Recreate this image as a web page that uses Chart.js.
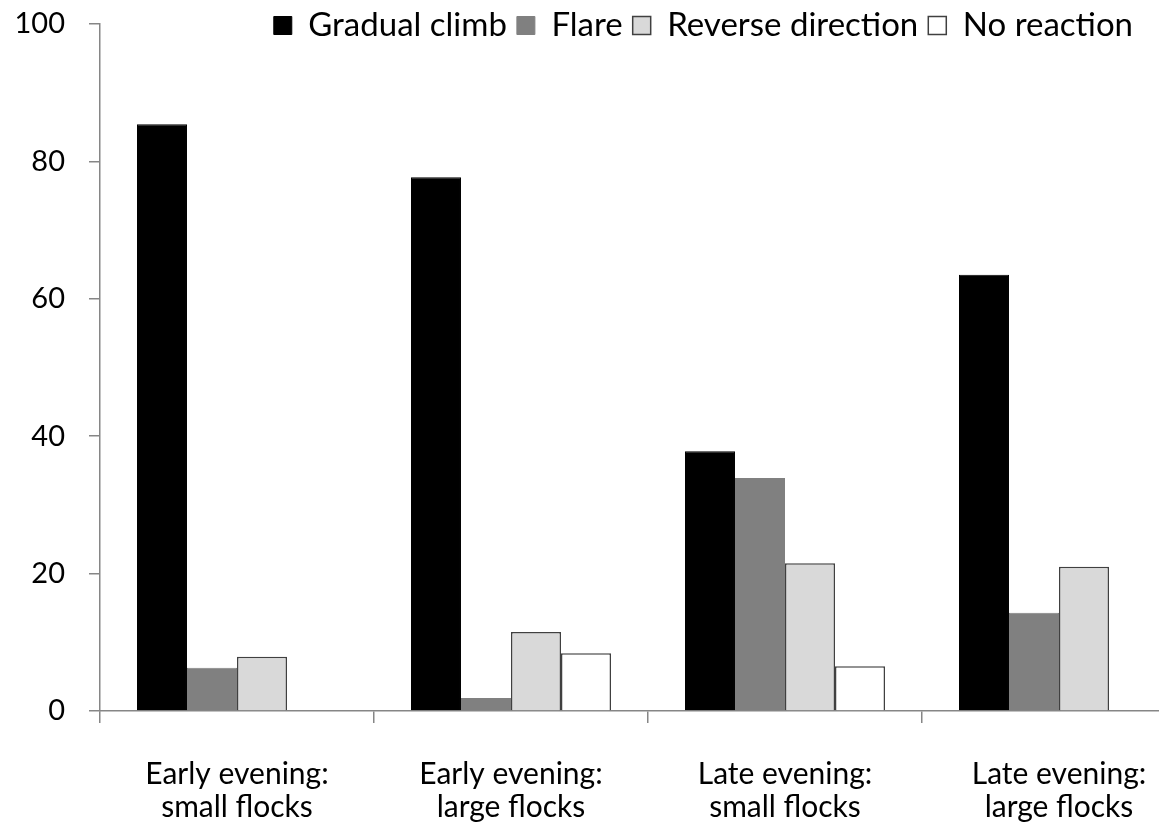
<!DOCTYPE html>
<html>
<head>
<meta charset="utf-8">
<script src="https://cdn.jsdelivr.net/npm/chart.js@4/dist/chart.umd.min.js"></script>
<style>
    html, body { margin: 0; padding: 0; background: #fff; overflow: hidden; }
    #wrap { width: 1200px; height: 831px; }
</style>
</head>
<body>
<div id="wrap"><canvas id="chart" width="1200" height="831"></canvas></div>
<script>
    // categories (two lines each)
    const categories = [
        ['Early evening:', 'small flocks'],
        ['Early evening:', 'large flocks'],
        ['Late evening:', 'small flocks'],
        ['Late evening:', 'large flocks']
    ];
    const seriesNames = ['Gradual climb', 'Flare', 'Reverse direction', 'No reaction'];
    const gradualClimb = [85.4, 77.7, 37.8, 63.5];
    const flare = [6.3, 1.9, 33.9, 14.3];
    const reverseDirection = [7.9, 11.5, 21.5, 21.0];
    const noReaction = [0, 8.4, 6.5, 0];
    const yTicks = [0, 20, 40, 60, 80, 100];

    const FONT = 'Lato, "Open Sans", sans-serif';
    const axisGray = '#868686';

    // legend takes no room and sits at the top right, level with the 100 tick
    const legendPlace = {
        id: 'legendPlace',
        beforeLayout(chart) {
            const lg = chart.legend;
            if (lg && !lg._patched) {
                const fit = lg.fit;
                lg.fit = function () { fit.call(this); this.height = 0; };
                lg._patched = true;
            }
        },
        afterLayout(chart) {
            const lg = chart.legend;
            lg.top = -1;
            lg.bottom = 40;
            lg.right = 1143;
            lg.width = lg.right - lg.left;
        }
    };

    const ctx = document.getElementById('chart').getContext('2d');
    const chart = new Chart(ctx, {
        type: 'bar',
        data: {
            labels: categories,
            datasets: [
                { label: seriesNames[0], data: gradualClimb, backgroundColor: '#000000', borderColor: '#000000', borderWidth: 1 },
                { label: seriesNames[1], data: flare, backgroundColor: '#808080', borderColor: '#808080', borderWidth: 1 },
                { label: seriesNames[2], data: reverseDirection, backgroundColor: '#d9d9d9', borderColor: '#404040', borderWidth: 1.5 },
                { label: seriesNames[3], data: noReaction, backgroundColor: '#ffffff', borderColor: '#404040', borderWidth: 1.5 }
            ]
        },
        options: {
            responsive: false,
            animation: false,
            layout: { padding: { left: 0, right: 4, top: 24, bottom: 0 } },
            datasets: {
                bar: { categoryPercentage: 0.73, barPercentage: 1.0 }
            },
            plugins: {
                legend: {
                    display: true,
                    position: 'top',
                    align: 'end',
                    labels: {
                        boxWidth: 18,
                        boxHeight: 18,
                        padding: 10,
                        color: '#000',
                        font: { family: FONT, size: 33 }
                    }
                },
                tooltip: { enabled: false }
            },
            scales: {
                x: {
                    grid: {
                        display: true,
                        drawOnChartArea: false,
                        drawTicks: true,
                        tickLength: 12,
                        color: axisGray,
                        lineWidth: 1.5,
                        offset: true
                    },
                    border: { display: true, color: axisGray, width: 1.5 },
                    ticks: {
                        color: '#000',
                        font: { family: FONT, size: 30, lineHeight: 1.1 },
                        padding: 35,
                        maxRotation: 0,
                        autoSkip: false
                    },
                    afterFit(scale) { scale.height = 120; }
                },
                y: {
                    min: 0,
                    max: 100,
                    afterBuildTicks(scale) { scale.ticks = yTicks.map(v => ({ value: v })); },
                    grid: {
                        display: true,
                        drawOnChartArea: false,
                        drawTicks: true,
                        tickLength: 11,
                        color: axisGray,
                        lineWidth: 1.5
                    },
                    border: { display: true, color: axisGray, width: 1.5 },
                    ticks: {
                        color: '#000',
                        font: { family: FONT, size: 29 },
                        padding: 24
                    },
                    afterFit(scale) {
                        scale.width = 100;
                        scale.paddingTop = 0;
                        scale.paddingBottom = 0;
                    }
                }
            }
        },
        plugins: [legendPlace]
    });
</script>
</body>
</html>
